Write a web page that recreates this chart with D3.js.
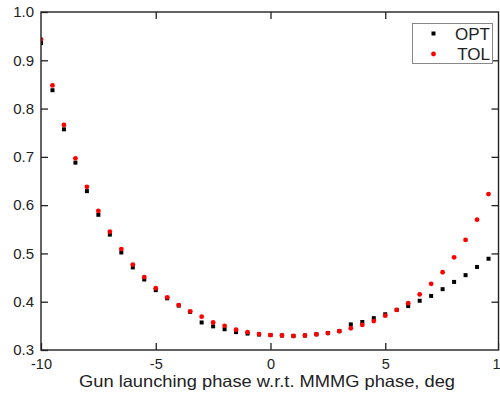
<!DOCTYPE html>
<html>
<head>
<meta charset="utf-8">
<script src="https://cdn.jsdelivr.net/npm/d3@7"></script>
<style>
  html, body { margin: 0; padding: 0; background: #fff; }
  svg { display: block; }
  text { font-family: "Liberation Sans", Arial, sans-serif; fill: #222; }
</style>
</head>
<body>
<svg id="chart" width="500" height="400"></svg>
<script>
// Launch phase offsets (deg)
const phase = [-10, -9.5, -9, -8.5, -8, -7.5, -7, -6.5, -6, -5.5, -5, -4.5, -4, -3.5, -3, -2.5, -2, -1.5, -1, -0.5,
               0, 0.5, 1, 1.5, 2, 2.5, 3, 3.5, 4, 4.5, 5, 5.5, 6, 6.5, 7, 7.5, 8, 8.5, 9, 9.5];
// Optimised settings
const opt = [0.936, 0.838, 0.757, 0.688, 0.629, 0.580, 0.539, 0.502, 0.471, 0.446, 0.424, 0.407, 0.392, 0.379, 0.357, 0.349, 0.343, 0.337, 0.334, 0.332,
             0.331, 0.330, 0.329, 0.330, 0.3325, 0.335, 0.339, 0.353, 0.358, 0.366, 0.374, 0.383, 0.391, 0.402, 0.412, 0.426, 0.441, 0.455, 0.472, 0.489];
// Tolerance settings
const tol = [0.943, 0.848, 0.766, 0.697, 0.638, 0.588, 0.545, 0.509, 0.477, 0.451, 0.428, 0.409, 0.393, 0.380, 0.369, 0.357, 0.350, 0.342, 0.337, 0.333,
             0.331, 0.330, 0.329, 0.330, 0.3325, 0.335, 0.339, 0.345, 0.352, 0.360, 0.371, 0.383, 0.397, 0.415, 0.437, 0.461, 0.492, 0.528, 0.570, 0.623];
const xTicks = [-10, -5, 0, 5, 10];
const yTicks = [0.3, 0.4, 0.5, 0.6, 0.7, 0.8, 0.9, 1.0];
const seriesNames = ["OPT", "TOL"];
const xTitle = "Gun launching phase w.r.t. MMMG phase, deg";

const svg = d3.select("#chart");
const x = d3.scaleLinear().domain([-10, 10]).range([41, 500]);
const y = d3.scaleLinear().domain([0.3, 1.0]).range([350, 12]);
const plotL = x(-10), plotR = x(10) - 1.5, plotT = y(1.0), plotB = y(0.3);

// Points (clipped to the plot frame)
svg.append("clipPath").attr("id", "plot")
  .append("rect").attr("x", plotL).attr("y", plotT).attr("width", plotR - plotL).attr("height", plotB - plotT);
const pts = svg.append("g").attr("clip-path", "url(#plot)");
pts.selectAll("rect.opt").data(phase.map((p, i) => [p, opt[i]])).join("rect")
  .attr("class", "opt")
  .attr("x", d => x(d[0]) - 2).attr("y", d => y(d[1]) - 2)
  .attr("width", 4).attr("height", 4).attr("fill", "#000");
pts.selectAll("circle.tol").data(phase.map((p, i) => [p, tol[i]])).join("circle")
  .attr("class", "tol")
  .attr("cx", d => x(d[0])).attr("cy", d => y(d[1]))
  .attr("r", 2.4).attr("fill", "#f00");

// Axes with inward ticks on all four sides
const tickLen = 7;
const fmtY = d3.format(".1f");
svg.append("g").attr("transform", `translate(0,${plotB})`)
  .call(d3.axisBottom(x).tickValues(xTicks).tickSize(-tickLen).tickPadding(9).tickFormat(d => String(d)))
  .call(g => { g.select(".domain").remove(); g.selectAll("text").attr("font-size", 14.5).style("fill", "#222"); });
svg.append("g").attr("transform", `translate(0,${plotT})`)
  .call(d3.axisTop(x).tickValues(xTicks.slice(1, -1)).tickSize(-tickLen).tickFormat(""))
  .call(g => g.select(".domain").remove());
svg.append("g").attr("transform", `translate(${plotL},0)`)
  .call(d3.axisLeft(y).tickValues(yTicks).tickSize(-tickLen).tickPadding(7).tickFormat(fmtY))
  .call(g => { g.select(".domain").remove(); g.selectAll("text").attr("font-size", 15).style("fill", "#222"); });
svg.append("g").attr("transform", `translate(${plotR},0)`)
  .call(d3.axisRight(y).tickValues(yTicks.slice(1, -1)).tickSize(-tickLen).tickFormat(""))
  .call(g => g.select(".domain").remove());
svg.selectAll(".tick line").attr("stroke", "#222").attr("stroke-width", 1.3);

// Frame
svg.append("rect").attr("x", plotL).attr("y", plotT).attr("width", plotR - plotL).attr("height", plotB - plotT)
  .attr("fill", "none").attr("stroke", "#222").attr("stroke-width", 1.4);

// Axis title
svg.append("text").attr("x", 267).attr("y", 387).attr("text-anchor", "middle")
  .attr("font-size", 16.5).attr("textLength", 376).attr("lengthAdjust", "spacingAndGlyphs")
  .text(xTitle);

// Legend
const lg = svg.append("g");
lg.append("rect").attr("x", 412.5).attr("y", 23.5).attr("width", 80).attr("height", 40)
  .attr("fill", "#fff").attr("stroke", "#888").attr("stroke-width", 1);
lg.append("rect").attr("x", 431.5).attr("y", 31.5).attr("width", 4).attr("height", 4).attr("fill", "#000");
lg.append("circle").attr("cx", 433.5).attr("cy", 54).attr("r", 2.4).attr("fill", "#f00");
lg.append("text").attr("x", 490).attr("y", 39.5).attr("text-anchor", "end").attr("font-size", 17).text(seriesNames[0]);
lg.append("text").attr("x", 490).attr("y", 60).attr("text-anchor", "end").attr("font-size", 17).text(seriesNames[1]);
</script>
</body>
</html>
